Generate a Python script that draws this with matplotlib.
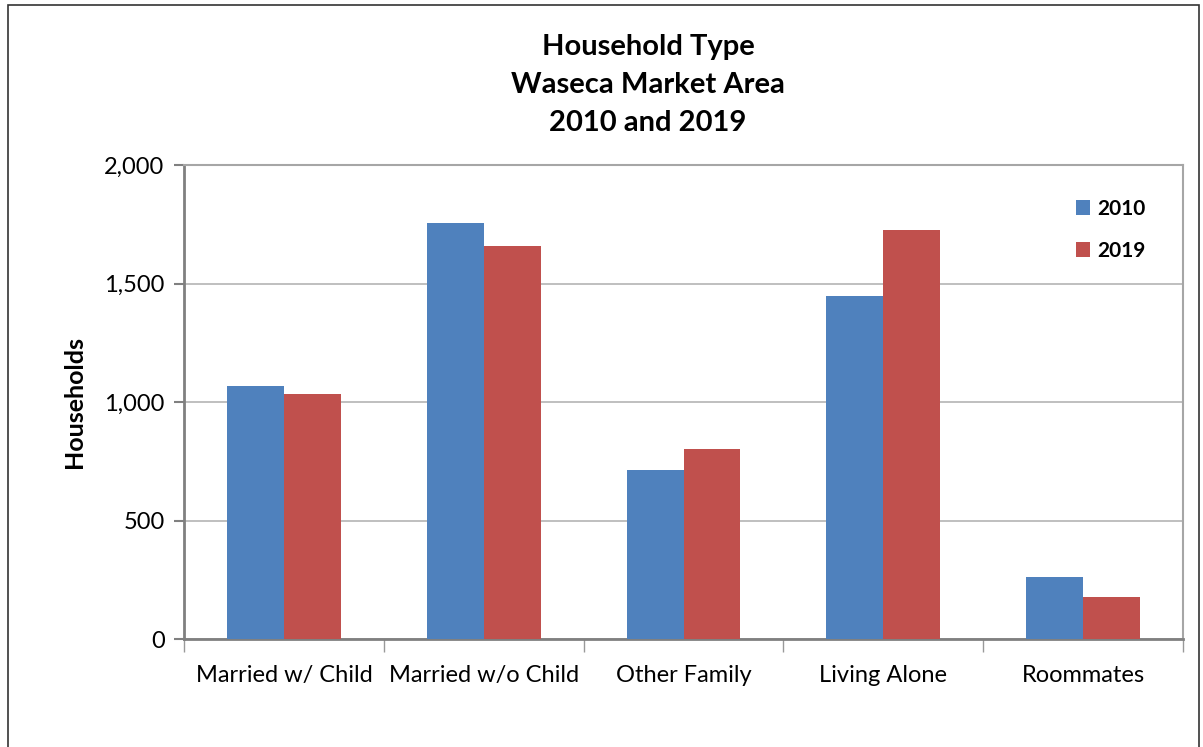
import numpy as np
import matplotlib.pyplot as plt
from matplotlib.patches import Rectangle

# household counts by type
categories = ['Married w/ Child', 'Married w/o Child', 'Other Family', 'Living Alone', 'Roommates']
hh_2010 = [1069, 1754, 714, 1447, 262]
hh_2019 = [1035, 1660, 803, 1724, 176]
years = ['2010', '2019']

blue = '#4F81BD'
red = '#C0504D'
plt.rcParams['font.family'] = ['Lato', 'DejaVu Sans']

fig = plt.figure(figsize=(12.03, 7.47), dpi=100)
ax = fig.add_axes([184 / 1203, 1 - 639 / 747, 999 / 1203, 474 / 747])

# outer chart border
fig.patches.append(Rectangle((8 / 1203, -0.05), 1191 / 1203, 1.05 - 5 / 747,
                             transform=fig.transFigure, fill=False,
                             edgecolor='#333333', linewidth=1.2))

x = np.arange(len(categories))
w = 0.285
ax.bar(x - w / 2, hh_2010, w, color=blue, label=years[0], zorder=3)
ax.bar(x + w / 2, hh_2019, w, color=red, label=years[1], zorder=3)

ax.set_xlim(-0.5, len(categories) - 0.5)
ax.set_ylim(0, 2000)
ax.set_yticks([0, 500, 1000, 1500, 2000])
ax.set_yticklabels(['0', '500', '1,000', '1,500', '2,000'])
ax.yaxis.grid(True, color='#b4b4b4', linewidth=1.2, zorder=0)

# category labels sit between the boundary tick marks
ax.set_xticks(np.arange(-0.5, len(categories), 1.0))
ax.set_xticklabels([])
ax.set_xticks(x, minor=True)
ax.set_xticklabels(categories, minor=True)
ax.tick_params(axis='x', which='minor', length=0, pad=19, labelsize=17)
ax.tick_params(axis='x', which='major', length=9, width=1, color='#999999', direction='out')
ax.tick_params(axis='y', length=7, width=1.5, color='#808080', labelsize=17, pad=7)

for s in ['left', 'bottom']:
    ax.spines[s].set_color('#808080')
    ax.spines[s].set_linewidth(2)
for s in ['top', 'right']:
    ax.spines[s].set_color('#a6a6a6')
    ax.spines[s].set_linewidth(1.5)

ax.set_ylabel('Households', fontsize=18, fontweight='bold', labelpad=13)

fig.text(648 / 1203, 1 - 85 / 747, 'Household Type\nWaseca Market Area\n2010 and 2019',
         ha='center', va='center', fontsize=21, fontweight='bold', linespacing=1.55)

ax.legend(loc='upper left', bbox_to_anchor=(1057 / 1203, 1 - 180 / 747),
          bbox_transform=fig.transFigure, frameon=False,
          prop={'weight': 'bold', 'size': 15}, handlelength=0.7, handleheight=0.7,
          handletextpad=0.35, labelspacing=1.05)

fig.savefig('out.png', dpi=100)
